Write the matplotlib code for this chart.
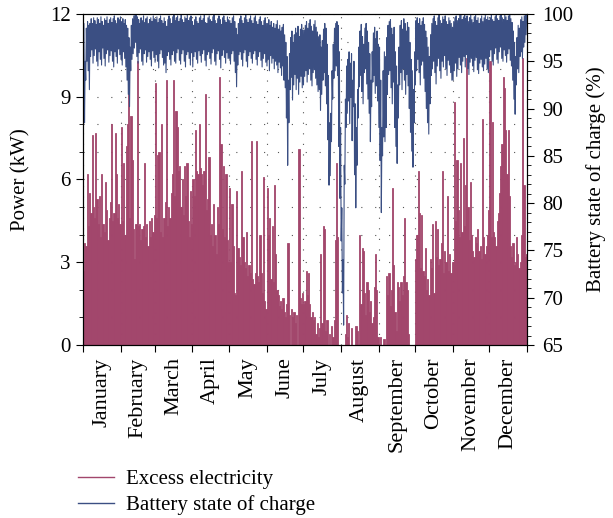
import numpy as np
import matplotlib
matplotlib.use("Agg")
import matplotlib.pyplot as plt
from matplotlib.lines import Line2D
from matplotlib.ticker import MultipleLocator, FixedLocator

plt.rcParams['font.family'] = ['Liberation Serif', 'DejaVu Serif']
plt.rcParams['lines.scale_dashes'] = False

months = ['January', 'February', 'March', 'April', 'May', 'June', 'July',
          'August', 'September', 'October', 'November', 'December']
month_days = [31, 28, 31, 30, 31, 30, 31, 31, 30, 31, 30, 31]

# daily peak of excess electricity (kW)
excess_kw = [
    2.7, 3.7, 3.6, 6.2, 4.3, 5.5, 4.8, 7.6, 5.0, 4.6, 7.7, 5.3, 4.4, 5.4, 3.9, 6.2, 4.4, 4.1, 5.9, 4.9, 3.8, 4.6, 5.2, 8.0, 4.5, 4.8, 7.7, 6.2, 4.6, 5.1, 4.4,
    7.9, 4.5, 6.6, 4.0, 7.2, 8.0, 9.2, 4.6, 8.3, 6.7, 4.2, 3.1, 4.4, 10.3, 4.3, 4.4, 3.8, 4.2, 4.3, 6.6, 3.9, 4.4, 3.6, 4.5, 3.9, 4.6, 4.1, 4.7,
    9.5, 4.6, 6.9, 7.0, 4.1, 8.0, 3.9, 4.6, 5.2, 9.6, 4.3, 5.0, 4.6, 5.5, 6.2, 9.6, 5.4, 8.5, 7.9, 6.3, 6.5, 5.0, 6.0, 4.7, 6.5, 5.4, 6.6, 4.5, 3.9, 5.6, 4.4,
    6.0, 5.4, 7.8, 6.3, 6.2, 8.0, 6.4, 6.2, 5.8, 6.3, 9.1, 4.9, 5.3, 6.8, 4.0, 4.4, 3.6, 5.1, 4.0, 3.3, 5.0, 4.4, 9.7, 7.3, 4.2, 6.5, 3.9, 6.2, 3.8, 3.0,
    5.7, 3.0, 5.1, 3.6, 1.9, 1.8, 5.6, 3.5, 3.2, 2.9, 6.3, 3.9, 3.0, 2.8, 4.1, 2.5, 2.9, 2.6, 7.4, 2.4, 2.2, 2.6, 7.4, 2.5, 2.3, 4.0, 2.6, 1.9, 6.1, 1.6, 1.3,
    5.7, 4.0, 4.6, 2.4, 4.3, 2.3, 5.8, 3.3, 2.0, 1.8, 1.4, 1.6, 1.3, 1.7, 1.2, 1.0, 1.5, 3.7, 1.1, 0.0, 1.3, 1.0, 1.2, 0.8, 1.1, 0.0, 7.1, 1.7, 1.5, 1.9,
    1.5, 1.6, 2.7, 1.8, 2.6, 1.5, 1.0, 1.2, 0.9, 1.0, 0.4, 0.8, 0.3, 0.6, 3.3, 0.8, 4.3, 4.2, 0.5, 0.9, 0.0, 0.4, 0.0, 0.7, 0.3, 0.9, 3.8, 6.6, 3.9, 0.0, 0.0,
    0.0, 0.0, 0.0, 0.4, 1.1, 0.3, 0.8, 0.0, 0.6, 0.0, 0.0, 0.0, 0.7, 0.5, 0.0, 4.0, 1.5, 3.5, 3.4, 1.9, 1.1, 2.3, 2.0, 1.2, 1.6, 0.8, 1.0, 2.1, 3.3, 2.0, 0.3,
    0.0, 0.3, 0.0, 0.0, 0.2, 0.0, 2.5, 1.8, 2.6, 1.4, 2.0, 5.7, 2.9, 1.2, 0.5, 2.3, 2.1, 1.6, 2.3, 1.8, 2.5, 4.6, 2.3, 2.0, 0.4, 0.0, 0.0, 0.0, 0.0, 0.0,
    3.1, 4.0, 6.3, 4.8, 2.8, 4.7, 2.7, 2.5, 3.5, 2.0, 2.4, 1.8, 3.1, 2.8, 4.4, 1.9, 4.5, 3.2, 4.2, 2.9, 3.1, 3.7, 6.3, 2.6, 3.4, 3.0, 5.4, 2.7, 3.3, 2.6, 3.0,
    3.0, 8.8, 4.5, 6.7, 4.9, 3.9, 6.6, 4.1, 7.5, 4.3, 5.8, 10.4, 5.0, 3.8, 5.9, 4.0, 3.4, 3.2, 3.9, 3.7, 4.2, 3.4, 3.6, 3.1, 8.2, 3.9, 3.3, 3.6, 4.0, 4.9,
    10.3, 3.9, 8.1, 4.1, 3.9, 3.6, 4.5, 4.8, 5.5, 6.5, 7.3, 9.7, 9.3, 7.8, 6.2, 7.8, 5.4, 3.6, 3.2, 3.7, 2.9, 3.0, 3.9, 3.3, 2.8, 3.0, 4.0, 10.4, 5.8, 3.2, 3.3,
]

# daily low and high of battery state of charge (%)
soc_low = [
    89.0, 88.5, 93.0, 95.0, 94.0, 92.0, 95.5, 96.2, 94.8, 95.6, 96.3, 95.0, 94.5, 96.0, 95.2, 94.6, 96.4, 95.3, 94.5, 95.8, 96.2, 94.9, 95.6, 96.1, 95.0, 94.4, 96.0, 95.5, 94.8, 96.3, 95.7,
    95.2, 94.6, 96.0, 95.3, 94.4, 93.0, 91.5, 90.2, 94.0, 95.2, 95.8, 96.4, 97.0, 95.5, 94.8, 95.9, 96.3, 95.0, 94.6, 95.8, 96.2, 94.9, 95.5, 96.0, 95.2, 94.5, 96.1, 95.4,
    94.9, 95.7, 95.0, 94.3, 95.8, 96.2, 95.4, 94.6, 94.8, 93.8, 95.6, 96.0, 95.2, 94.6, 95.7, 96.1, 95.0, 94.8, 95.9, 96.3, 95.1, 94.7, 95.8, 96.2, 95.0, 94.4, 95.7, 96.0, 95.3, 94.6, 95.9,
    94.4, 95.5, 96.0, 95.2, 94.8, 96.1, 95.6, 94.9, 95.8, 96.2, 95.1, 94.5, 95.7, 96.0, 95.3, 94.7, 95.9, 96.3, 95.0, 94.6, 95.8, 96.1, 95.2, 94.3, 95.6, 96.2, 95.4, 94.8, 95.9, 95.3,
    95.3, 94.7, 95.8, 96.1, 95.0, 93.8, 92.3, 94.6, 95.7, 96.0, 95.2, 94.5, 95.9, 96.2, 95.0, 94.4, 95.6, 96.0, 95.3, 94.8, 95.8, 96.1, 95.2, 94.6, 95.5, 96.0, 95.1, 94.4, 95.3, 95.8, 94.9,
    94.5, 95.2, 94.0, 95.6, 94.8, 95.3, 94.2, 95.0, 94.6, 93.8, 94.9, 94.3, 93.5, 94.5, 93.0, 92.2, 89.0, 84.0, 88.5, 92.0, 93.3, 90.9, 92.5, 93.6, 92.0, 93.2, 91.5, 92.8, 93.4, 92.2,
    92.5, 93.4, 94.0, 92.8, 93.6, 94.2, 93.0, 92.4, 93.8, 94.1, 93.2, 92.5, 91.8, 92.0, 89.8, 91.5, 93.0, 93.8, 92.4, 90.5, 86.7, 81.9, 82.9, 86.5, 91.0, 93.2, 94.0, 94.5, 93.5, 86.0, 80.5,
    76.0, 70.5, 67.1, 82.0, 88.0, 89.5, 90.8, 88.4, 91.2, 86.6, 90.2, 83.0, 79.5, 84.0, 89.0, 92.3, 93.5, 91.8, 90.5, 93.8, 94.2, 92.6, 91.0, 89.5, 86.5, 90.2, 92.8, 93.5, 91.6, 92.4, 90.8,
    88.0, 84.5, 79.0, 85.0, 87.0, 86.5, 88.0, 91.5, 93.6, 94.0, 92.2, 90.5, 92.8, 88.0, 86.0, 84.2, 89.0, 92.5, 93.8, 92.0, 94.2, 93.0, 91.5, 93.6, 92.4, 90.0, 87.5, 85.5, 83.8, 88.5,
    92.5, 94.0, 95.2, 93.8, 92.5, 94.6, 95.0, 93.2, 91.8, 90.0, 88.5, 87.3, 90.5, 93.5, 94.2, 95.0, 93.8, 92.6, 94.5, 95.3, 94.0, 93.2, 95.0, 94.4, 95.6, 94.2, 93.5, 95.1, 94.6, 93.8, 93.0,
    93.0, 94.0, 94.8, 93.4, 94.2, 95.4, 94.6, 93.8, 95.0, 95.5, 94.4, 95.7, 94.2, 93.6, 94.9, 95.3, 94.5, 93.9, 95.1, 95.4, 94.1, 93.7, 94.8, 95.2, 94.4, 94.0, 94.7, 95.3, 94.2, 93.8,
    95.5, 96.2, 95.0, 94.6, 95.8, 96.4, 95.2, 94.8, 96.0, 96.5, 95.3, 95.0, 96.2, 95.6, 94.9, 95.8, 96.3, 95.1, 94.5, 93.0, 91.0, 89.4, 92.5, 94.2, 93.8, 95.5, 96.0, 95.3, 96.5, 97.0, 97.8,
]
soc_high = [
    99.0, 95.0, 98.5, 99.2, 98.8, 99.0, 99.5, 99.0, 99.6, 99.3, 98.9, 99.6, 99.4, 99.0, 99.7, 99.2, 98.8, 99.5, 99.3, 99.7, 99.0, 99.4, 99.6, 99.1, 99.5, 99.8, 99.3, 99.0, 99.6, 99.4, 99.7,
    99.2, 99.5, 99.0, 99.4, 98.8, 98.5, 97.5, 96.5, 98.8, 99.5, 99.8, 100.0, 100.0, 99.7, 99.4, 99.0, 99.6, 99.3, 99.8, 99.1, 99.5, 99.7, 99.0, 99.4, 99.6, 99.2, 99.8, 99.5,
    99.4, 99.7, 99.1, 99.5, 99.8, 99.3, 99.0, 99.6, 99.2, 98.7, 99.4, 99.8, 99.5, 99.0, 99.7, 99.9, 99.3, 99.6, 99.8, 99.2, 99.5, 99.9, 99.4, 99.1, 99.7, 99.5, 99.9, 99.3, 99.6, 99.8, 99.2,
    98.8, 99.4, 99.7, 99.2, 99.0, 99.6, 99.8, 99.3, 99.5, 99.9, 99.1, 99.0, 99.6, 99.8, 99.4, 99.2, 99.7, 99.9, 99.3, 99.0, 99.5, 99.8, 99.4, 98.9, 99.6, 99.8, 99.3, 99.1, 99.7, 99.4,
    99.3, 99.0, 99.6, 99.8, 99.2, 98.5, 97.8, 99.0, 99.5, 99.8, 99.3, 99.0, 99.6, 99.9, 99.4, 99.1, 99.5, 99.8, 99.3, 99.0, 99.6, 99.8, 99.2, 98.9, 99.4, 99.7, 99.2, 98.8, 99.3, 99.6, 99.0,
    99.0, 99.4, 98.8, 99.2, 98.6, 99.0, 98.5, 98.9, 99.3, 98.4, 98.8, 98.2, 98.6, 98.9, 97.8, 97.0, 95.5, 93.0, 95.8, 97.5, 98.2, 97.0, 97.8, 98.5, 98.0, 98.7, 97.6, 98.4, 98.9, 98.3,
    98.3, 98.8, 99.2, 98.5, 99.0, 99.4, 98.7, 98.2, 98.9, 99.3, 98.6, 98.1, 97.6, 97.8, 96.5, 97.2, 98.4, 99.0, 98.5, 96.8, 93.5, 88.5, 89.5, 94.0, 96.8, 98.5, 99.0, 99.2, 98.8, 96.0, 88.0,
    79.5, 74.0, 84.0, 91.0, 94.5, 95.2, 96.0, 94.8, 95.8, 93.0, 95.0, 90.5, 88.0, 92.0, 96.5, 98.2, 98.9, 97.6, 96.8, 98.5, 99.0, 98.2, 97.0, 95.8, 93.0, 96.0, 98.0, 98.6, 97.4, 98.2, 96.8,
    96.5, 93.0, 88.0, 94.0, 96.0, 95.5, 97.5, 98.8, 99.2, 99.4, 98.5, 97.8, 98.6, 96.0, 94.5, 92.5, 96.5, 98.8, 99.3, 98.4, 99.5, 99.0, 98.2, 99.1, 98.6, 97.0, 95.2, 94.0, 92.0, 96.0,
    99.3, 99.6, 99.0, 99.5, 98.8, 99.2, 99.6, 98.9, 98.2, 97.5, 96.5, 95.5, 97.8, 99.0, 99.5, 99.8, 99.2, 98.8, 99.6, 99.9, 99.3, 99.0, 99.7, 99.4, 99.8, 99.2, 98.9, 99.6, 99.3, 99.0, 98.6,
    99.2, 99.6, 99.8, 99.3, 99.5, 99.9, 100.0, 99.4, 99.7, 100.0, 99.5, 99.8, 99.2, 99.6, 99.9, 99.4, 99.1, 99.7, 99.9, 99.3, 99.6, 99.0, 99.5, 99.8, 99.2, 99.6, 99.9, 99.4, 99.7, 99.3,
    99.6, 99.9, 99.4, 99.2, 99.7, 100.0, 99.5, 99.3, 99.8, 100.0, 99.6, 99.4, 99.9, 99.7, 99.3, 99.8, 100.0, 99.5, 99.1, 98.2, 97.0, 95.5, 97.5, 98.8, 98.5, 99.4, 99.7, 99.2, 99.8, 99.9, 100.0,
]

excess_color = '#a2466c'
soc_color = '#3b4f83'

days = np.arange(len(excess_kw))
edges = np.concatenate([[0], np.cumsum(month_days)])
mids = (edges[:-1] + edges[1:]) / 2

fig = plt.figure(figsize=(6.13, 5.18), dpi=100)
ax = fig.add_axes([0.1354, 0.334, 0.7243, 0.639])
ax2 = ax.twinx()

ax.bar(days + 0.5, excess_kw, width=1.0, color=excess_color,
       edgecolor=excess_color, linewidth=0.6, zorder=2)

# one low and one high point per day gives the daily swing of the battery
t = np.column_stack([days + 0.25, days + 0.75]).ravel()
s = np.column_stack([soc_low, soc_high]).ravel()
ax2.plot(t, s, color=soc_color, lw=0.8)

ax.set_xlim(0, 365)
ax.set_ylim(0, 12)
ax2.set_ylim(65, 100)

ax.xaxis.set_major_locator(FixedLocator(edges))
ax.xaxis.set_minor_locator(FixedLocator(mids))
ax.set_xticklabels([], minor=False)
ax.set_xticklabels(months, minor=True, rotation=90, fontsize=16)
ax.tick_params(axis='x', which='major', direction='out', length=5, width=0.8)
ax.tick_params(axis='x', which='minor', length=0, pad=9)

ax.yaxis.set_major_locator(MultipleLocator(3))
ax.yaxis.set_minor_locator(MultipleLocator(1))
ax.tick_params(axis='y', which='major', direction='out', length=5, width=0.8, labelsize=15, pad=4)
ax.tick_params(axis='y', which='minor', direction='out', length=3, width=0.6)

ax2.yaxis.set_major_locator(MultipleLocator(5))
ax2.yaxis.set_minor_locator(MultipleLocator(1))
ax2.tick_params(axis='y', which='major', direction='out', length=5, width=0.8, labelsize=15, pad=6)
ax2.tick_params(axis='y', which='minor', direction='out', length=3, width=0.6)

ax.set_axisbelow(True)
ax.grid(axis='x', which='major', color='#555555', lw=0.8, ls=(0, (0.8, 6.8)))
ax.grid(axis='y', which='both', color='#555555', lw=0.8, ls=(0, (0.8, 9.2)))

ax.set_ylabel('Power (kW)', fontsize=15, labelpad=14)
ax2.set_ylabel('Battery state of charge (%)', fontsize=15, labelpad=9)

handles = [Line2D([], [], color=excess_color, lw=1.0),
           Line2D([], [], color=soc_color, lw=1.0)]
fig.legend(handles, ['Excess electricity', 'Battery state of charge'],
           loc='upper left', bbox_to_anchor=(0.128, 0.094), frameon=False,
           fontsize=15, handlelength=1.7, handletextpad=0.6, labelspacing=0.3,
           borderaxespad=0, borderpad=0)

fig.savefig('out.png', dpi=100)
